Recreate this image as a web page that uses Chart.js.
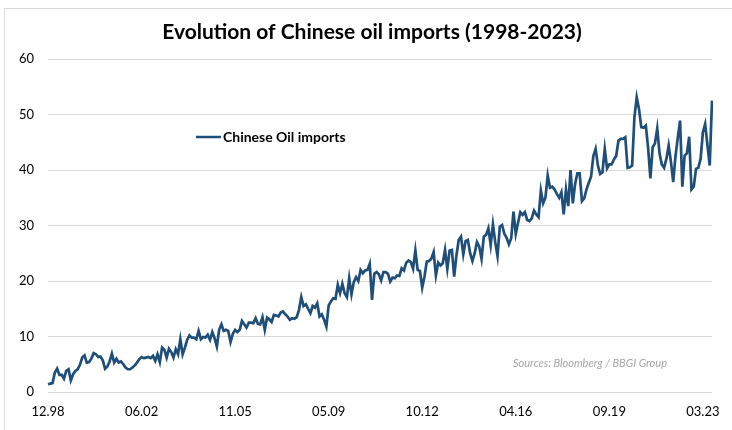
<!DOCTYPE html>
<html>
<head>
<meta charset="utf-8">
<script src="https://cdn.jsdelivr.net/npm/chart.js@4"></script>
<style>
  html, body { margin: 0; padding: 0; background: #fff; }
  #wrap { width: 732px; height: 430px; position: relative; }
</style>
</head>
<body>
<div id="wrap"><canvas id="myChart"></canvas></div>
<script>
// monthly values, 12.98 -> 03.23
var imports = [
  1.4, 1.5, 1.6, 3.5, 4.2, 3.1, 3.1, 2.4, 3.8, 4.1,
  2.1, 3.2, 3.8, 4.1, 4.9, 6.2, 6.6, 5.3, 5.4, 6.0,
  7.0, 6.8, 6.3, 6.4, 5.7, 4.2, 4.6, 5.5, 6.9, 5.3,
  6.0, 5.3, 5.5, 5.0, 4.4, 4.1, 4.1, 4.4, 4.8, 5.3,
  5.9, 6.3, 6.1, 6.2, 6.3, 6.1, 6.5, 5.6, 6.8, 5.4,
  8.0, 7.6, 6.2, 7.8, 7.2, 6.2, 7.7, 6.8, 9.5, 6.8,
  8.0, 9.4, 10.2, 9.8, 9.8, 9.5, 11.0, 9.5, 9.9, 9.8,
  10.3, 9.4, 10.8, 9.7, 8.2, 11.2, 12.2, 11.0, 11.2, 11.0,
  9.0, 10.5, 11.2, 10.8, 11.2, 12.8, 12.2, 11.6, 12.5, 12.5,
  12.4, 13.3, 12.3, 12.2, 13.5, 11.2, 13.4, 13.1, 12.6, 13.9,
  13.8, 13.6, 14.3, 14.5, 14.0, 13.6, 13.0, 13.3, 13.2, 13.5,
  14.8, 17.1, 15.5, 15.8, 15.0, 14.2, 15.5, 15.2, 16.0, 13.6,
  14.0, 13.0, 11.8, 15.6, 16.3, 16.9, 16.8, 19.3, 17.8, 19.5,
  17.8, 17.1, 20.5, 17.6, 19.8, 20.7, 20.0, 22.0, 21.4, 21.9,
  22.0, 23.1, 16.6, 21.3, 21.6, 21.2, 20.1, 21.6, 21.6, 21.3,
  19.9, 20.6, 20.5, 21.0, 20.9, 22.3, 21.9, 23.3, 23.7, 23.4,
  22.2, 25.5, 22.0, 21.8, 18.8, 20.8, 23.5, 23.6, 24.0, 25.2,
  21.0, 23.3, 22.8, 23.2, 25.6, 22.2, 25.5, 25.6, 20.8, 24.6,
  27.4, 28.0, 24.8, 27.2, 27.4, 25.0, 23.6, 25.0, 27.0, 26.2,
  24.0, 28.0, 28.3, 29.5, 26.5, 30.2, 27.0, 24.5, 29.8, 30.1,
  28.5, 27.8, 26.6, 27.7, 32.5, 28.5, 30.5, 32.4, 31.9, 32.4,
  31.0, 30.8, 31.3, 32.7, 32.0, 31.5, 36.3, 34.0, 35.0, 39.0,
  36.8, 37.0, 36.5, 35.7, 35.0, 36.0, 32.0, 36.5, 33.5, 40.0,
  34.0, 37.5, 39.4, 39.4, 34.4, 34.9, 36.5, 37.7, 38.8, 42.5,
  43.8, 40.8, 39.3, 39.6, 43.8, 40.3, 41.0, 41.0, 41.9, 42.5,
  45.3, 45.6, 45.6, 45.9, 40.4, 40.5, 40.8, 49.5, 53.1, 51.0,
  47.7, 47.6, 48.0, 44.0, 38.5, 44.1, 44.8, 47.5, 43.0, 41.0,
  40.4, 42.0, 44.4, 41.5, 37.8, 42.5, 45.8, 48.9, 37.0, 42.6,
  43.0, 46.0, 36.5, 37.0, 40.2, 40.4, 42.0, 46.8, 48.3, 44.5,
  40.8, 52.5
];

var tickLabels = ['12.98', '06.02', '11.05', '05.09', '10.12', '04.16', '09.19', '03.23'];
var tickIndex = [0, 41, 82, 123, 164, 205, 246, 287];

// month labels mm.yy
var months = [];
for (var i = 0; i < imports.length; i++) {
    var m = (11 + i) % 12 + 1;
    var y = (1998 + Math.floor((11 + i) / 12)) % 100;
    months.push((m < 10 ? '0' : '') + m + '.' + (y < 10 ? '0' : '') + y);
}

var fontFam = "Lato, 'Open Sans', sans-serif";

var extras = {
    id: 'extras',
    afterDraw: function (chart) {
        var c = chart.ctx;
        c.save();
        // frame
        c.strokeStyle = '#d9d9d9';
        c.lineWidth = 1;
        c.strokeRect(4.5, 8.5, 740, 440);
        // title
        c.fillStyle = '#000';
        c.font = "bold 21px " + fontFam;
        c.textAlign = 'center';
        c.textBaseline = 'middle';
        c.fillText('Evolution of Chinese oil imports (1998-2023)', 372, 32);
        // legend
        var ds = chart.data.datasets[0];
        c.strokeStyle = ds.borderColor;
        c.lineWidth = 2.5;
        c.beginPath();
        c.moveTo(196, 137);
        c.lineTo(221, 137);
        c.stroke();
        c.font = "bold 14px " + fontFam;
        c.textAlign = 'left';
        c.fillStyle = '#000';
        c.fillText(ds.label, 223, 137);
        // source
        c.font = "italic 11px " + fontFam;
        c.fillStyle = '#a6a6a6';
        c.fillText('Sources: Bloomberg / BBGI Group', 513, 363);
        c.restore();
    }
};

var ctx = document.getElementById('myChart');

var data = {
    labels: months,
    datasets: [
        {
            label: 'Chinese Oil imports',
            data: imports,
            borderColor: '#1f4e79',
            borderWidth: 2.7,
            pointRadius: 0,
            tension: 0,
            fill: false
        }]
};

var chart = new Chart(ctx, {
    type: 'line',
    data: data,
    plugins: [extras],
    options: {
        responsive: true,
        maintainAspectRatio: false,
        animation: false,
        layout: { padding: { top: 59, right: 20, left: 0, bottom: 0 } },
        plugins: {
            legend: { display: false },
            title: { display: false },
            tooltip: { enabled: false }
        },
        scales: {
            x: {
                type: 'category',
                grid: { display: false, drawTicks: false },
                border: { display: false },
                ticks: {
                    autoSkip: false,
                    maxRotation: 0,
                    padding: 12,
                    color: '#000',
                    font: { family: fontFam, size: 13 },
                    callback: function (val, index) {
                        var k = tickIndex.indexOf(index);
                        return k >= 0 ? tickLabels[k] : '';
                    }
                },
                afterFit: function (scale) { scale.height = 38; }
            },
            y: {
                min: 0,
                max: 60,
                grid: { color: '#d9d9d9', lineWidth: 1, drawTicks: false },
                border: { display: false },
                ticks: {
                    stepSize: 10,
                    padding: 14,
                    color: '#000',
                    font: { family: fontFam, size: 13 }
                },
                afterFit: function (scale) { scale.width = 48; }
            }
        }
    }
});
</script>
</body>
</html>
